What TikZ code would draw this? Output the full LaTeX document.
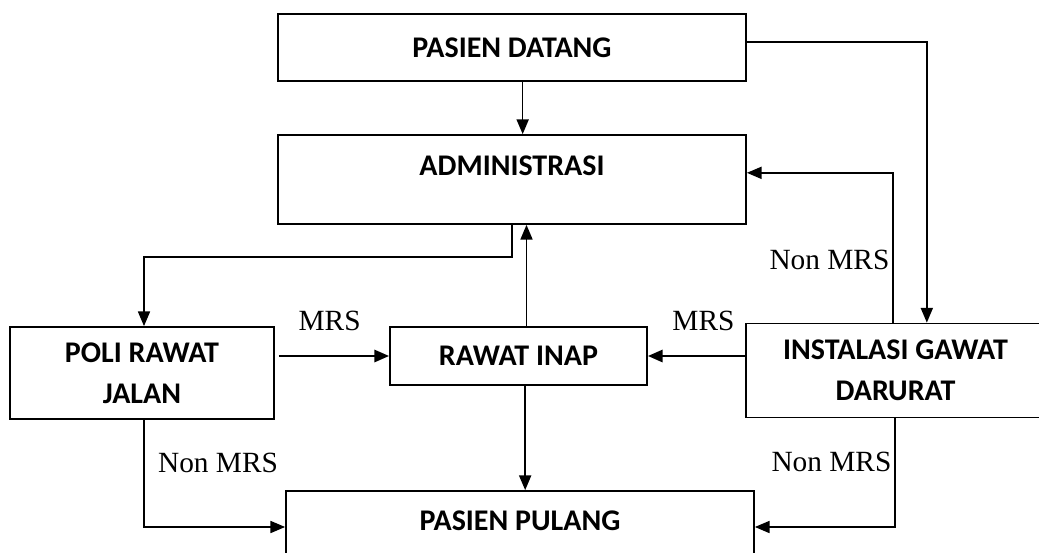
\documentclass[tikz,border=0pt]{standalone}
\usepackage{fontspec}
\setmainfont{Liberation Serif}
\newfontfamily\boxfont{Carlito}
\usetikzlibrary{arrows.meta}

\tikzset{
  box/.style={draw, line width=1.3pt, rectangle, inner sep=0pt, align=center,
    font=\boxfont\bfseries\fontsize{22.5}{31}\selectfont},
  txt/.style={font=\boxfont\bfseries\fontsize{22.5}{31}\selectfont},
  arr/.style={line width=1.2pt, -{Triangle[length=11pt,width=9pt]}},
  lbl/.style={font=\fontsize{22}{26}\selectfont, inner sep=2pt}
}

\begin{document}
\begin{tikzpicture}[x=0.75pt,y=-0.75pt]
            \useasboundingbox (0,0) rectangle (1039,553);
            \clip (0,0) rectangle (1039,553);

            \node[box, minimum width=351pt, minimum height=50pt] (datang) at (512,47.5) {PASIEN DATANG};
            \node[box, minimum width=351pt, minimum height=66.75pt] (admin) at (512,179.5) {};
            \node[txt] (admintxt) at ([yshift=-24pt]admin.north) {ADMINISTRASI};
            \node[box, minimum width=198pt, minimum height=69pt] (poli) at (142,373) {POLI RAWAT\\JALAN};
            \node[box, minimum width=192.75pt, minimum height=43.5pt] (rinap) at (518.5,356) {RAWAT INAP};
            \node[box, minimum width=224pt, minimum height=70.5pt] (igd) at (895.5,370.5) {INSTALASI GAWAT\\DARURAT};
            \node[box, minimum width=351pt, minimum height=60pt] (pulang) at (520,531) {};
            \node[txt] (pulangtxt) at ([yshift=-23pt]pulang.north) {PASIEN PULANG};

            \draw[arr] ([xshift=8pt]datang.south) -- ([xshift=8pt]admin.north);
            \draw[arr] ([yshift=4pt]datang.east) -| ([xshift=23.5pt]igd.north);
            \draw[arr] ([xshift=-2pt]igd.north) |- node[lbl, pos=0.21, left] {Non MRS} ([yshift=5pt]admin.east);
            \draw[arr] (admin.south) -- ++(0,32) -| ([xshift=1.5pt]poli.north);
            \draw[arr] ([xshift=6pt]rinap.north) -- ([xshift=6pt]rinap.north |- admin.south);
            \draw[arr, line width=2pt] ([xshift=3pt]poli.east |- rinap.west) -- node[lbl, pos=0.46, above=16pt] {MRS} (rinap.west);
            \draw[arr, line width=2pt] (igd.west |- rinap.east) -- node[lbl, pos=0.43, above=16pt] {MRS} (rinap.east);
            \draw[arr] ([xshift=5pt]rinap.south) -- ([xshift=5pt]rinap.south |- pulang.north);
            \draw[arr] ([xshift=1.5pt]poli.south) |- node[lbl, pos=0.2, right=8pt] {Non MRS} ([yshift=3pt]pulang.west);
            \draw[arr] ([xshift=-0.5pt]igd.south) |- node[lbl, pos=0.2, left] {Non MRS} ([yshift=3pt]pulang.east);
        \end{tikzpicture}
\end{document}
